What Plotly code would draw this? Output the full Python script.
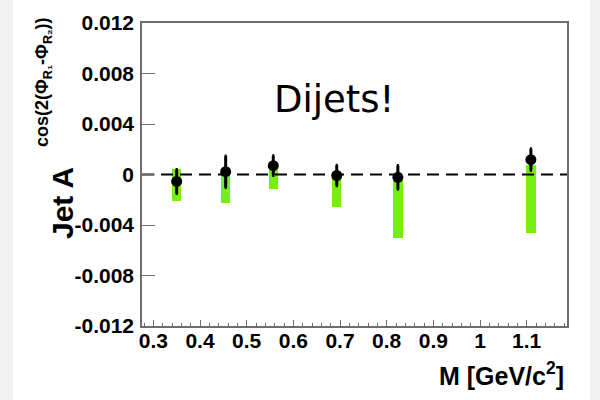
import plotly.graph_objects as go

# Dijet mass bins and measured asymmetry
mass = [0.350, 0.455, 0.557, 0.693, 0.824, 1.109]
asym = [-0.00055, 0.00022, 0.00070, -0.00008, -0.00022, 0.00117]
stat_err = [0.00095, 0.00125, 0.00078, 0.00082, 0.00094, 0.00086]

# Systematic uncertainty band (top / bottom edge of each green box)
sys_top = [0.00040, 0.00000, 0.00036, -0.00005, -0.00020, 0.00075]
sys_bottom = [-0.00207, -0.00223, -0.00117, -0.00255, -0.00506, -0.00466]

y_ticks = [0.012, 0.008, 0.004, 0.0, -0.004, -0.008, -0.012]
y_tick_text = ["0.012", "0.008", "0.004", "0", "-0.004", "-0.008", "-0.012"]
x_ticks = [0.3, 0.4, 0.5, 0.6, 0.7, 0.8, 0.9, 1.0, 1.1]
x_tick_text = ["0.3", "0.4", "0.5", "0.6", "0.7", "0.8", "0.9", "1", "1.1"]

x_range = [0.2757, 1.1864]
y_range = [-0.012, 0.012]

W, H = 600, 400
L, R, T, B = 142, 33, 23, 74
PW, PH = W - L - R, H - T - B


def px(xp):
    return (xp - L) / PW


def py(yp):
    return (H - B - yp) / PH


FONT = "Liberation Sans"
GREEN = "#74EE15"

fig = go.Figure()

fig.add_trace(go.Bar(
    x=mass,
    base=sys_bottom,
    y=[t - b for t, b in zip(sys_top, sys_bottom)],
    width=0.02,
    marker=dict(color=GREEN, line=dict(width=0)),
    hoverinfo="skip",
    showlegend=False,
))

# zero reference line
fig.add_trace(go.Scatter(
    x=x_range, y=[0, 0], mode="lines",
    line=dict(color="black", width=2, dash="12px,7px"),
    hoverinfo="skip", showlegend=False,
))

fig.add_trace(go.Scatter(
    x=mass, y=asym, mode="markers",
    marker=dict(color="black", size=11, symbol="circle"),
    error_y=dict(type="data", array=stat_err, color="black",
                 thickness=3, width=1),
    showlegend=False,
))

fig.update_layout(
    width=W, height=H,
    margin=dict(l=L, r=R, t=T, b=B),
    paper_bgcolor="white",
    plot_bgcolor="white",
    bargap=0,
    font=dict(family=FONT, color="black"),
    xaxis=dict(
        range=x_range, showgrid=False, zeroline=False,
        showline=True, linecolor="#6e6e6e", linewidth=1.5, mirror=True,
        ticks="inside", ticklen=6, tickwidth=1, tickcolor="#6e6e6e",
        tickvals=x_ticks, ticktext=x_tick_text,
        tickfont=dict(family=FONT, size=21, weight="bold", color="black"),
        ticklabelstandoff=-5,
        minor=dict(dtick=0.02, tick0=0.3, ticks="inside", ticklen=3,
                   tickwidth=1, tickcolor="#6e6e6e"),
    ),
    yaxis=dict(
        range=y_range, showgrid=False, zeroline=False,
        showline=True, linecolor="#6e6e6e", linewidth=1.5, mirror=True,
        ticks="inside", ticklen=13, tickwidth=1, tickcolor="#6e6e6e",
        tickvals=y_ticks, ticktext=y_tick_text,
        tickfont=dict(family=FONT, size=21, weight="bold", color="black"),
        ticklabelstandoff=2,
    ),
    shapes=[
        dict(type="rect", xref="paper", yref="paper",
             x0=px(0), x1=px(13), y0=py(H), y1=py(0),
             fillcolor="#f1f1f1", line=dict(width=0), layer="below"),
        dict(type="rect", xref="paper", yref="paper",
             x0=px(590), x1=px(W), y0=py(H), y1=py(0),
             fillcolor="#f1f1f1", line=dict(width=0), layer="below"),
    ],
    annotations=[
        dict(text="Dijets!", xref="paper", yref="paper",
             x=px(334), y=py(100), xanchor="center", yanchor="middle",
             showarrow=False,
             font=dict(family="DejaVu Sans", size=37, color="black")),
        dict(text="M [GeV/c<sup>2</sup>]", xref="paper", yref="paper",
             x=px(566), y=py(374), xanchor="right", yanchor="middle",
             showarrow=False,
             font=dict(family=FONT, size=25, weight="bold", color="black")),
        dict(text="Jet A", xref="paper", yref="paper", textangle=-90,
             x=px(62), y=py(203), xanchor="center", yanchor="middle",
             showarrow=False,
             font=dict(family=FONT, size=30, weight="bold", color="black")),
        dict(text="cos(2(Φ<sub>R₁</sub>-Φ<sub>R₂</sub>))",
             xref="paper", yref="paper", textangle=-90,
             x=px(43), y=py(82), xanchor="center", yanchor="middle",
             showarrow=False,
             font=dict(family=FONT, size=18, weight="bold", color="black")),
    ],
)

fig.write_html("out.html")
